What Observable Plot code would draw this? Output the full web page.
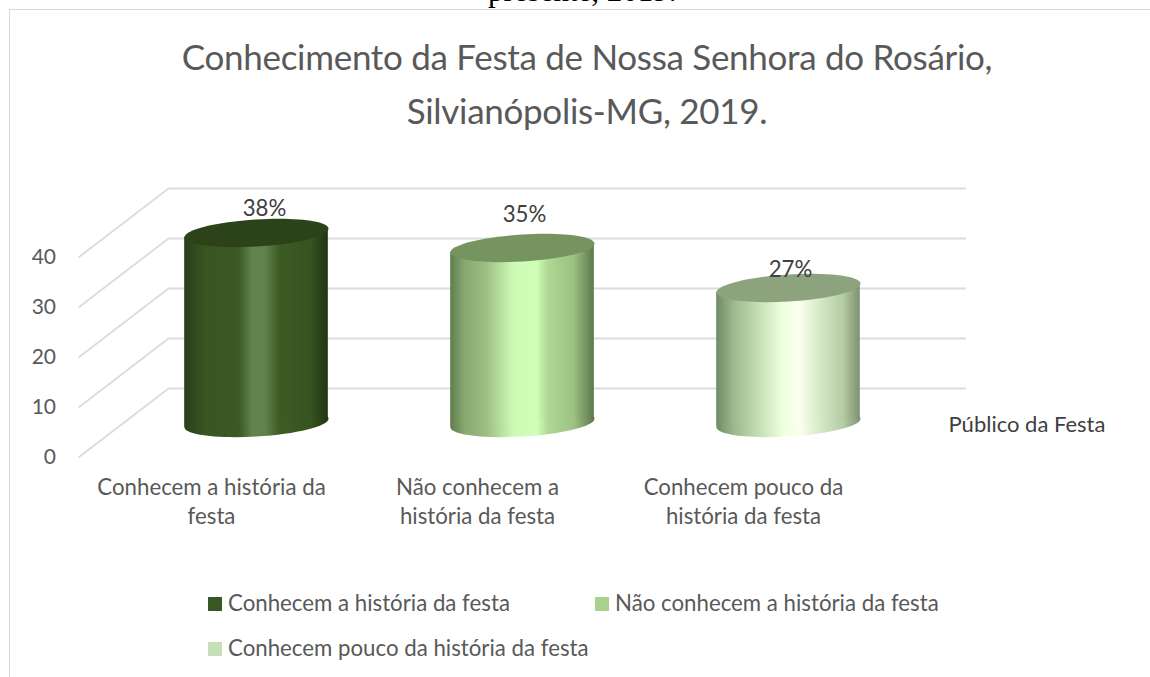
<!DOCTYPE html>
<html lang="pt">
<head>
<meta charset="utf-8">
<script src="https://cdn.jsdelivr.net/npm/d3@7"></script>
<script src="https://cdn.jsdelivr.net/npm/@observablehq/plot@0.6"></script>
<style>
html,body{margin:0;padding:0;background:#fff;overflow:hidden}
#page{position:relative;width:1150px;height:677px;overflow:hidden;font-family:Lato,sans-serif}
#frame{position:absolute;left:9px;top:9px;right:-10px;bottom:-10px;border:1.5px solid #d9d9d9}
#above{position:absolute;left:488px;top:-27px;font:31px "Liberation Serif",serif;color:#000;white-space:nowrap}
#title{position:absolute;left:0;top:29px;width:1150px;height:119px;text-align:center;color:#595959;font-size:35px;line-height:54px;padding-left:24px;box-sizing:border-box;letter-spacing:-.3px}
#chart{position:absolute;left:0;top:150px}
#legend{position:absolute;left:0;top:560px;width:1150px;height:117px;color:#595959;font-size:22.25px}
.item{position:absolute;white-space:nowrap;line-height:24px}
.item i{position:absolute;left:-20px;top:6px;width:14px;height:14px}
g[aria-label="bar"] rect{transform-box:fill-box;transform-origin:center;transform:skewY(-3.4deg)}
svg{overflow:visible}
</style>
</head>
<body>
<div id="page">
  <div id="frame"></div>
  <div id="above">presente, 2019.</div>
  <div id="title">Conhecimento da Festa de Nossa Senhora do Rosário,<br>Silvianópolis-MG, 2019.</div>
  <div id="chart"></div>
  <div id="legend"></div>
</div>
<script>
const categories = ["Conhecem a história da festa", "Não conhecem a história da festa", "Conhecem pouco da história da festa"];
const tickLabels = ["Conhecem a história da\nfesta", "Não conhecem a\nhistória da festa", "Conhecem pouco da\nhistória da festa"];
const values = [38, 35, 27];
const percentLabels = ["38%", "35%", "27%"];
const yTicks = [0, 10, 20, 30, 40];
const seriesName = ["Público da Festa"];

const swatchColors = ["#385723", "#a9d18e", "#c5e0b4"];
const capColors = ["#2c431a", "#76945f", "#8ca37e"];
const gradients = [
  [[0,"#2a3f1b"],[.15,"#385522"],[.38,"#3c5a25"],[.47,"#62824e"],[.56,"#62824e"],[.66,"#3d5c25"],[.88,"#365320"],[1,"#213412"]],
  [[0,"#5f7d4b"],[.10,"#88a970"],[.25,"#9dbf83"],[.44,"#cdfbb5"],[.60,"#d0ffb8"],[.68,"#b0d795"],[.86,"#9cc182"],[1,"#5c7749"]],
  [[0,"#6f8a67"],[.12,"#9db78e"],[.32,"#cbe5b9"],[.46,"#efffdf"],[.58,"#fbffee"],[.68,"#dff0cf"],[.88,"#b5cca4"],[1,"#7c9270"]]
];

// Cilindro: posição no plano intermediário do "3D" em relação à parede do fundo
const cylDx = -45, wallDy = -34.5, frontDy = 34.5, frontDx = -90;
const table = categories.map((c, i) => ({c, v: values[i], label: percentLabels[i], i}));
const tick = new Map(categories.map((c, i) => [c, tickLabels[i]]));
const labelShift = [{dx: 8, dy: -24}, {dx: 2, dy: -33}, {dx: 2, dy: -18}];

// Elipse inclinada (topo e base dos cilindros)
const a = 72, b = 13.5, k = -0.06, K = 0.5523;
const pt = (u, v) => [a * u, b * v + k * a * u];
const ellipse = {
  draw(ctx) {
    ctx.moveTo(...pt(1, 0));
    ctx.bezierCurveTo(...pt(1, K), ...pt(K, 1), ...pt(0, 1));
    ctx.bezierCurveTo(...pt(-K, 1), ...pt(-1, K), ...pt(-1, 0));
    ctx.bezierCurveTo(...pt(-1, -K), ...pt(-K, -1), ...pt(0, -1));
    ctx.bezierCurveTo(...pt(K, -1), ...pt(1, -K), ...pt(1, 0));
    ctx.closePath();
  }
};
const diagonal = {
  draw(ctx) { ctx.moveTo(0, 0); ctx.lineTo(frontDx, -2 * wallDy); }
};

const defs = () => {
  const svg = d3.create("svg:defs");
  gradients.forEach((stops, i) => {
    const g = svg.append("linearGradient").attr("id", "cil" + i).attr("x1", 0).attr("x2", 1).attr("y1", 0).attr("y2", 0);
    stops.forEach(([o, c]) => g.append("stop").attr("offset", o).attr("stop-color", c));
  });
  return svg.node();
};

const fontSize = 22.25;
const plot = Plot.plot({
  width: 1150,
  height: 410,
  marginLeft: 168,
  marginRight: 184,
  marginTop: 72.5,
  marginBottom: 137.5,
  style: {fontFamily: "Lato, sans-serif", background: "transparent", overflow: "visible"},
  x: {domain: categories, paddingInner: 0.46, paddingOuter: 0.23, round: false, axis: null},
  y: {domain: [0, 40], axis: null},
  marks: [
    defs,
    Plot.ruleY(yTicks, {dy: wallDy, stroke: "#dcdcdc", strokeWidth: 1.8}),
    Plot.dot(yTicks, {y: d => d, dy: wallDy, frameAnchor: "left", symbol: diagonal, stroke: "#dcdcdc", strokeWidth: 1.8, fill: "none"}),
    Plot.axisY({ticks: yTicks, anchor: "left", tickSize: 0, tickPadding: 112.5, dy: frontDy, fontSize: 21, color: "#595959", label: null}),
    Plot.axisX({ticks: categories, anchor: "bottom", tickSize: 0, tickPadding: 51, dx: frontDx, lineAnchor: "top", lineHeight: 1.31, fontSize, color: "#595959", label: null, tickFormat: d => tick.get(d), textOverflow: null}),
    Plot.dot(table, {x: "c", y: () => 0, dx: cylDx, symbol: ellipse, fill: d => `url(#cil${d.i})`, stroke: "none"}),
    Plot.barY(table, {x: "c", y: "v", dx: cylDx, fill: d => `url(#cil${d.i})`}),
    Plot.dot(table, {x: "c", y: "v", dx: cylDx, symbol: ellipse, fill: d => capColors[d.i], stroke: "none"}),
    ...table.map(d => Plot.text([d], {x: "c", y: "v", text: "label", dx: cylDx + labelShift[d.i].dx, dy: labelShift[d.i].dy, fontSize, fill: "#404040"})),
    Plot.text(seriesName, {text: d => d, y: () => 0, frameAnchor: "right", textAnchor: "start", dx: -18, dy: 1.5, fontSize: 22, fill: "#404040"})
  ]
});
document.getElementById("chart").append(plot);

// Legenda
const legendPos = [{x: 228, y: 31}, {x: 615, y: 31}, {x: 228, y: 76}];
const legend = d3.select("#legend");
categories.forEach((c, i) => {
  const it = legend.append("div").attr("class", "item").style("left", legendPos[i].x + "px").style("top", legendPos[i].y + "px");
  it.append("i").style("background", swatchColors[i]);
  it.append("span").text(c);
});
</script>
</body>
</html>
